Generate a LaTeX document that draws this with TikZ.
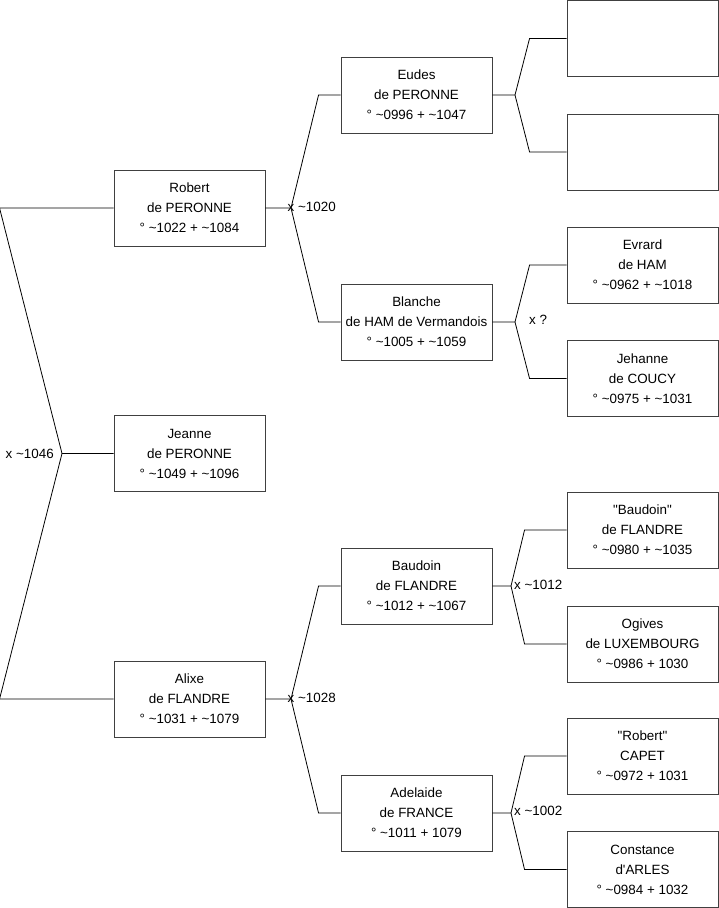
\documentclass[tikz,border=0pt]{standalone}
\usepackage{fontspec}
\setmainfont{Liberation Sans}
\usetikzlibrary{calc}

\tikzset{
  person/.style={draw=black!75, line width=0.9pt, minimum width=151pt, minimum height=76pt,
    inner sep=0pt, align=center, font=\fontsize{13.4}{20}\selectfont},
  link/.style={black, line width=0.8pt},
  union/.style={inner sep=0pt, font=\fontsize{13.4}{16}\selectfont}
}
\newcommand{\ap}{\textasciitilde}

\begin{document}
\begin{tikzpicture}[x=1pt, y=-1pt]
\useasboundingbox (0,0) rectangle (719,908);

% generation 1
\node[person] (jeanne) at (189.5,453.5) {Jeanne\\de PERONNE\\° \ap1049 + \ap1096};
\node[person] (robert) at (189.5,208) {Robert\\de PERONNE\\° \ap1022 + \ap1084};
\node[person] (alixe) at (189.5,699) {Alixe\\de FLANDRE\\° \ap1031 + \ap1079};

% generation 2
\node[person] (eudes) at (416.5,95) {Eudes\\de PERONNE\\° \ap0996 + \ap1047};
\node[person] (blanche) at (416.5,322) {Blanche\\de HAM de Vermandois\\° \ap1005 + \ap1059};
\node[person] (baudoin) at (416.5,586) {Baudoin\\de FLANDRE\\° \ap1012 + \ap1067};
\node[person] (adelaide) at (416.5,813) {Adelaide\\de FRANCE\\° \ap1011 + 1079};

% generation 3
\node[person] (eudesf) at (642.5,38.5) {};
\node[person] (eudesm) at (642.5,152) {};
\node[person] (evrard) at (642.5,265) {Evrard\\de HAM\\° \ap0962 + \ap1018};
\node[person] (jehanne) at (642.5,378.5) {Jehanne\\de COUCY\\° \ap0975 + \ap1031};
\node[person] (baudoinf) at (642.5,530) {\textquotedbl Baudoin\textquotedbl\\de FLANDRE\\° \ap0980 + \ap1035};
\node[person] (ogives) at (642.5,644) {Ogives\\de LUXEMBOURG\\° \ap0986 + 1030};
\node[person] (capet) at (642.5,756) {\textquotedbl Robert\textquotedbl\\CAPET\\° \ap0972 + 1031};
\node[person] (constance) at (642.5,869.5) {Constance\\d\textquotesingle ARLES\\° \ap0984 + 1032};

% unions
\coordinate (uJ) at (62,453.5);
\coordinate (uR) at (291,208);
\coordinate (uA) at (291,699);
\coordinate (uE) at (515,95);
\coordinate (uB) at (515,322);
\coordinate (uD) at (511,586);
\coordinate (uC) at (511,813);

\draw[link] (jeanne.west) -- (uJ) -- ([xshift=-114pt]robert.west) -- (robert.west);
\draw[link] (uJ) -- ([xshift=-114pt]alixe.west) -- (alixe.west);

\draw[link] (robert.east) -- (uR) -- ([xshift=-22pt]eudes.west) -- (eudes.west);
\draw[link] (uR) -- ([xshift=-22pt]blanche.west) -- (blanche.west);
\draw[link] (alixe.east) -- (uA) -- ([xshift=-22pt]baudoin.west) -- (baudoin.west);
\draw[link] (uA) -- ([xshift=-22pt]adelaide.west) -- (adelaide.west);

\draw[link] (eudes.east) -- (uE) -- ([xshift=-37pt]eudesf.west) -- (eudesf.west);
\draw[link] (uE) -- ([xshift=-37pt]eudesm.west) -- (eudesm.west);
\draw[link] (blanche.east) -- (uB) -- ([xshift=-37pt]evrard.west) -- (evrard.west);
\draw[link] (uB) -- ([xshift=-37pt]jehanne.west) -- (jehanne.west);
\draw[link] (baudoin.east) -- (uD) -- ([xshift=-42pt]baudoinf.west) -- (baudoinf.west);
\draw[link] (uD) -- ([xshift=-42pt]ogives.west) -- (ogives.west);
\draw[link] (adelaide.east) -- (uC) -- ([xshift=-42pt]capet.west) -- (capet.west);
\draw[link] (uC) -- ([xshift=-42pt]constance.west) -- (constance.west);

% marriage dates
\node[union, anchor=east] (mJ) at (54,453.5) {x \ap1046};
\node[union, anchor=west] (mR) at (287.5,207) {x \ap1020};
\node[union, anchor=west] (mA) at (287.5,698) {x \ap1028};
\node[union, anchor=west] (mB) at (529,320) {x ?};
\node[union, anchor=west] (mD) at (514,585) {x \ap1012};
\node[union, anchor=west] (mC) at (514,811) {x \ap1002};
\end{tikzpicture}
\end{document}
